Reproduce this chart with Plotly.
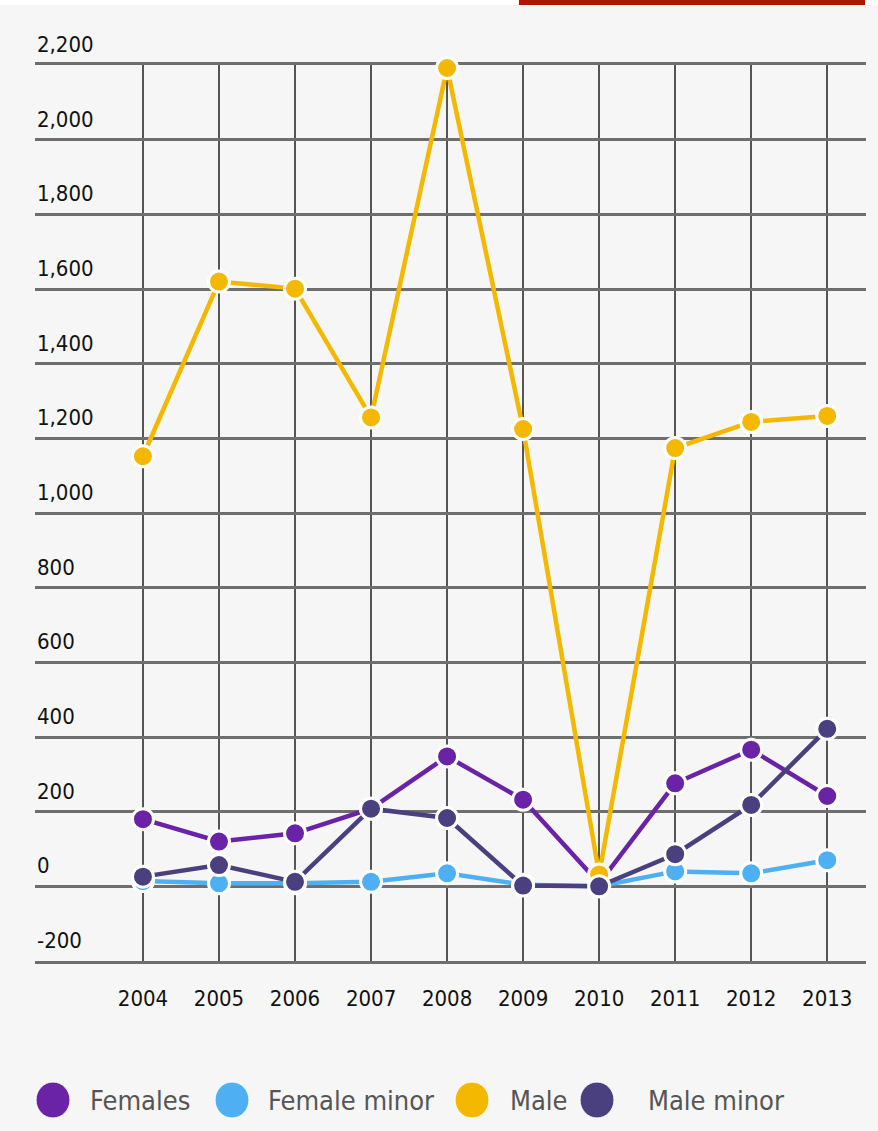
import plotly.graph_objects as go

# ---- data ----
years = [2004, 2005, 2006, 2007, 2008, 2009, 2010, 2011, 2012, 2013]
females = [180, 120, 142, 208, 348, 232, 8, 276, 366, 242]
female_minor = [14, 8, 8, 12, 35, 4, 0, 40, 35, 70]
male = [1152, 1620, 1601, 1256, 2192, 1225, 32, 1174, 1244, 1260]
male_minor = [26, 57, 12, 208, 183, 2, 0, 86, 218, 422]

series_names = ["Females", "Female minor", "Male", "Male minor"]
series_values = [females, female_minor, male, male_minor]
series_colors = ["#6a22a6", "#4eb0f2", "#f5b800", "#4b407f"]

y_tickvals = [-200, 0, 200, 400, 600, 800, 1000, 1200, 1400, 1600, 1800, 2000, 2200]
y_ticktext = ["-200", "0", "200", "400", "600", "800", "1,000", "1,200", "1,400",
              "1,600", "1,800", "2,000", "2,200"]

W, H = 878, 1131
L, R, T, B = 35, 12, 65, 170
FONT = "DejaVu Sans Condensed, Liberation Sans Narrow, sans-serif"
BG = "#f6f6f6"
HGRID = "#6e6e6e"

fig = go.Figure()
for name, vals, col in zip(series_names, series_values, series_colors):
    fig.add_trace(go.Scatter(
        x=years, y=vals, name=name, mode="lines+markers",
        line=dict(color=col, width=4.5),
        marker=dict(size=21, color=col, line=dict(color="white", width=3)),
        cliponaxis=False, showlegend=False,
    ))

fig.update_layout(
    width=W, height=H,
    margin=dict(l=L, r=R, t=T, b=B),
    paper_bgcolor=BG, plot_bgcolor=BG,
    font=dict(family=FONT, color="#111111"),
    showlegend=False,
)
fig.update_xaxes(
    range=[2002.58, 2013.51],
    tickvals=years, ticktext=[str(y) for y in years],
    showgrid=True, gridcolor="#555555", gridwidth=1.5,
    ticks="outside", ticklen=16, tickcolor="rgba(0,0,0,0)",
    tickfont=dict(size=22, family=FONT, color="#111111"),
    showline=True, linecolor=HGRID, linewidth=3, mirror=True,
    zeroline=False, layer="below traces",
)
fig.update_yaxes(
    range=[-200, 2200],
    tickvals=y_tickvals, showticklabels=False,
    showgrid=True, gridcolor=HGRID, gridwidth=3,
    zeroline=False, showline=False, layer="below traces",
)

# y tick labels placed above their gridlines
for v, t in zip(y_tickvals, y_ticktext):
    fig.add_annotation(text=t, xref="paper", yref="y", x=0, y=v,
                       xanchor="left", yanchor="bottom", showarrow=False,
                       xshift=0, yshift=6,
                       font=dict(size=22, family=FONT, color="#111111"))

plot_w = W - L - R
plot_h = H - T - B
def px_to_paper_x(px):
    return (px - L) / plot_w
def px_to_paper_y(py):
    return (H - B - py) / plot_h

# top strip and red bar
fig.add_shape(type="rect", xref="paper", yref="paper",
              x0=px_to_paper_x(0), x1=px_to_paper_x(W), y0=px_to_paper_y(5), y1=px_to_paper_y(0),
              fillcolor="white", line_width=0, layer="below")
fig.add_shape(type="rect", xref="paper", yref="paper",
              x0=px_to_paper_x(519), x1=px_to_paper_x(865), y0=px_to_paper_y(5), y1=px_to_paper_y(0),
              fillcolor="#aa1800", line_width=0)

# custom legend
legend_circle_x = [53, 232, 472, 597]
legend_text_x = [88, 266, 508, 646]
legend_y = 1100
for name, col, cx, tx in zip(series_names, series_colors, legend_circle_x, legend_text_x):
    fig.add_shape(type="circle", xref="paper", yref="paper",
                  xsizemode="pixel", ysizemode="pixel",
                  xanchor=px_to_paper_x(cx), yanchor=px_to_paper_y(legend_y),
                  x0=-17, x1=17, y0=-18, y1=18,
                  fillcolor=col, line=dict(color="white", width=1))
    fig.add_annotation(text=name, xref="paper", yref="paper",
                       x=px_to_paper_x(tx), y=px_to_paper_y(legend_y),
                       xanchor="left", yanchor="middle", showarrow=False,
                       font=dict(size=27, family=FONT, color="#555555"))

fig.write_html("out.html", config={"displayModeBar": False},
               post_script="document.body.style.margin='0';document.body.style.background='%s';" % BG)
